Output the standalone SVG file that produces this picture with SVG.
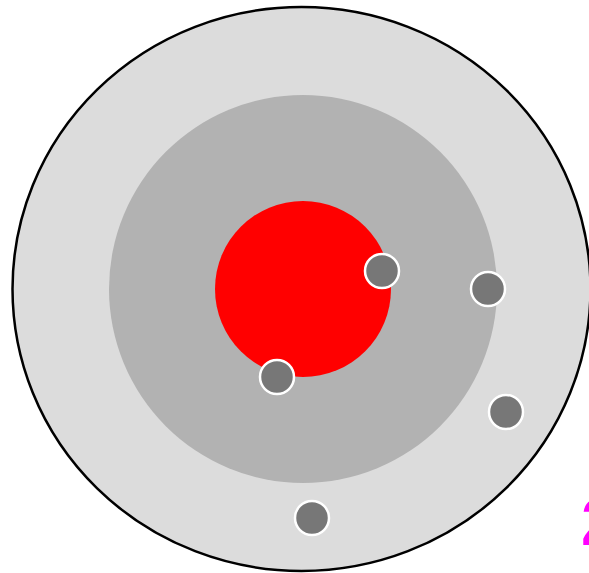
<svg xmlns="http://www.w3.org/2000/svg" width="589" height="573" viewBox="0 0 589 573">
<style>
.dot{fill:#777777;stroke:#ffffff;stroke-width:2.5}
.lbl{font-family:"Liberation Sans",Arial,sans-serif;font-weight:bold;fill:#ff00ff}
</style>
<rect width="589" height="573" fill="#ffffff"/>
<g id="outer"><ellipse cx="301.5" cy="289" rx="289" ry="282" fill="#dcdcdc" stroke="#000000" stroke-width="2.5"/></g>
<g id="middle"><circle cx="303" cy="289" r="194" fill="#b2b2b2"/></g>
<g id="core"><circle cx="303" cy="289" r="88" fill="#ff0000"/></g>
<g id="p1"><circle class="dot" cx="382" cy="271" r="17"/></g>
<g id="p2"><circle class="dot" cx="488" cy="289" r="17"/></g>
<g id="p3"><circle class="dot" cx="277" cy="377" r="17"/></g>
<g id="p4"><circle class="dot" cx="506" cy="412" r="17"/></g>
<g id="p5"><circle class="dot" cx="312" cy="518" r="17"/></g>
<g id="connectors"></g>
<text class="lbl" x="581" y="545" font-size="66">2</text>
</svg>
